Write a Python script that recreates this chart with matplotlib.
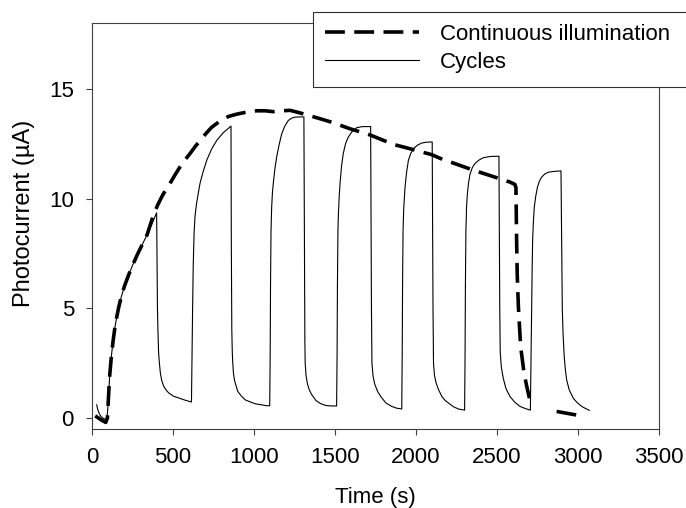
import numpy as np
import matplotlib
matplotlib.use("Agg")
import matplotlib.pyplot as plt
from matplotlib.patches import Rectangle

plt.rcParams['font.family'] = ['Liberation Sans', 'DejaVu Sans']
plt.rcParams['font.size'] = 16

# light on/off cycles (time in s, photocurrent in uA)
cycles_t = [29, 35, 45, 55, 65, 80, 90, 95, 100, 105, 110, 120, 130, 140, 150, 165, 180, 200,
            225, 250, 280, 310, 340, 370, 399,
            402, 404, 407, 411, 416, 422, 430, 443, 457, 474, 502, 536, 572, 614,
            616, 618, 621, 625, 630, 636, 645, 655, 667, 685, 708, 738, 770, 810, 858,
            860, 862, 863, 866, 869, 873, 880, 890, 900, 920, 945, 975, 1007, 1045, 1079, 1097,
            1100, 1102, 1105, 1109, 1114, 1119, 1128, 1140, 1155, 1171, 1190, 1212, 1232, 1253,
            1280, 1308,
            1311, 1313, 1314, 1316, 1321, 1330, 1341, 1355, 1382, 1410, 1444, 1480, 1510,
            1513, 1515, 1518, 1521, 1526, 1531, 1540, 1551, 1565, 1582, 1605, 1634, 1670, 1720,
            1723, 1725, 1728, 1735, 1745, 1763, 1785, 1815, 1850, 1880, 1912,
            1915, 1917, 1920, 1924, 1932, 1942, 1953, 1967, 1984, 2008, 2035, 2065, 2100,
            2103, 2105, 2108, 2114, 2124, 2139, 2160, 2180, 2201, 2230, 2262, 2300,
            2303, 2305, 2308, 2312, 2317, 2324, 2333, 2347, 2364, 2388, 2415, 2460, 2512,
            2515, 2517, 2520, 2527, 2539, 2555, 2580, 2610, 2642, 2675, 2706,
            2709, 2712, 2714, 2717, 2720, 2725, 2730, 2739, 2749, 2762, 2776, 2795, 2817, 2855, 2895,
            2898, 2900, 2903, 2908, 2915, 2922, 2930, 2945, 2971, 2995, 3023, 3045, 3070]
cycles_v = [0.6, 0.4, 0.2, 0.08, 0.0, -0.05, 0.0, 0.2, 0.7, 1.4, 2.0, 2.85, 3.5, 4.05, 4.5, 5.05, 5.5, 6.0,
            6.5, 6.95, 7.45, 7.9, 8.35, 8.85, 9.35,
            7.0, 5.0, 4.0, 3.0, 2.5, 2.05, 1.72, 1.44, 1.28, 1.14, 1.0, 0.91, 0.82, 0.73,
            2.0, 3.25, 5.0, 7.0, 8.4, 9.2, 9.75, 10.2, 10.7, 11.2, 11.74, 12.25, 12.65, 13.0, 13.3,
            8.0, 5.0, 4.0, 3.0, 2.5, 2.05, 1.7, 1.45, 1.21, 1.02, 0.83, 0.74, 0.65, 0.6, 0.56, 0.56,
            3.0, 6.0, 8.5, 9.6, 10.3, 10.68, 11.3, 11.9, 12.45, 12.95, 13.3, 13.56, 13.66, 13.71,
            13.72, 13.72,
            8.0, 5.0, 3.5, 2.5, 1.95, 1.55, 1.29, 1.08, 0.8, 0.66, 0.57, 0.55, 0.55,
            3.0, 6.0, 8.5, 9.3, 10.1, 10.68, 11.45, 12.05, 12.5, 12.8, 13.05, 13.23, 13.28, 13.28,
            8.0, 5.0, 2.5, 1.9, 1.55, 1.21, 0.95, 0.68, 0.53, 0.45, 0.41,
            3.0, 6.0, 8.5, 9.5, 10.5, 11.2, 11.74, 12.05, 12.27, 12.43, 12.53, 12.57, 12.58,
            8.0, 5.0, 2.5, 1.95, 1.6, 1.29, 0.98, 0.8, 0.68, 0.52, 0.41, 0.36,
            3.0, 6.0, 8.5, 9.6, 10.2, 10.7, 11.1, 11.4, 11.6, 11.75, 11.86, 11.92, 11.93,
            8.0, 5.0, 3.0, 2.3, 1.8, 1.35, 0.98, 0.72, 0.53, 0.43, 0.36,
            2.0, 4.0, 5.07, 6.8, 8.1, 9.0, 9.6, 10.1, 10.5, 10.8, 10.98, 11.12, 11.2, 11.24, 11.26,
            9.0, 7.0, 5.0, 3.8, 2.8, 2.2, 1.74, 1.3, 0.9, 0.7, 0.53, 0.44, 0.35]

# continuous illumination (gap in the record marked with nan)
cont_t = [20, 40, 60, 85, 95, 100, 105, 110, 120, 130, 140, 150, 165, 180, 200, 225, 250, 280,
          310, 340, 379, 405, 430, 455, 481, 510, 543, 575, 605, 640, 677, 710, 739, 790, 842,
          890, 934, 980, 1016, 1070, 1119, 1170, 1222, 1260, 1305, 1407, 1479, 1593,
          1716, 1860, 1963, 2097, 2169, 2230, 2344, 2519, 2580, 2610, 2617, 2621,
          2625, 2632, 2646, 2667, 2682, 2693, 2700, np.nan, 2868, 2981, 3000]
cont_v = [0.1, 0.0, -0.1, -0.2, 0.0, 0.7, 1.4, 2.0, 2.85, 3.5, 4.05, 4.5, 5.05, 5.5, 6.0, 6.5, 6.95, 7.45,
          7.9, 8.35, 9.24, 9.7, 10.07, 10.4, 10.68, 11.05, 11.44, 11.77, 12.05, 12.4, 12.73, 13.02, 13.25, 13.53, 13.74,
          13.84, 13.91, 13.97, 14.0, 14.0, 13.96, 14.0, 14.02, 13.95, 13.86, 13.64, 13.48, 13.18,
          12.9, 12.47, 12.27, 12.0, 11.77, 11.62, 11.32, 10.9, 10.75, 10.65, 10.5, 8.1,
          6.5, 5.07, 3.25, 2.05, 1.5, 1.14, 0.9, np.nan, 0.3, 0.15, 0.12]

fig = plt.figure(figsize=(6.86, 5.08), dpi=100)
ax = fig.add_axes([92/686, 1 - 429/508, (659 - 92)/686, (429 - 23)/508])

ax.plot(cont_t, cont_v, color='black', lw=2.6, dashes=(5.5, 2.6),
        label='Continuous illumination')
ax.plot(cycles_t, cycles_v, color='black', lw=0.8, label='Cycles')

ax.set_xlim(0, 3500)
ax.set_ylim(-0.5, 18)
ax.set_xticks(np.arange(0, 3501, 500))
ax.set_yticks([0, 5, 10, 15])
ax.tick_params(direction='out', length=4.5, width=0.8, color='#404040', pad=8.5,
               top=False, right=False)
for s in ax.spines.values():
    s.set_color('#404040')
    s.set_linewidth(0.8)

ax.set_xlabel('Time (s)', labelpad=14)
ax.set_ylabel('Photocurrent (µA)', fontsize=17)
ax.yaxis.set_label_coords(-0.100, 0.531)

# legend box runs off the right edge of the figure, as in the original
fig.patches.append(Rectangle((313/686, 1 - 87/508), 0.6, 75/508, transform=fig.transFigure,
                             facecolor='white', edgecolor='#303030', lw=0.8, zorder=4))
leg = fig.legend(loc='upper left', bbox_to_anchor=(313/686, 1 - 12/508),
                 borderaxespad=0, frameon=False,
                 handlelength=4.2, handletextpad=0.95, labelspacing=0.3, borderpad=0.55)
leg.set_zorder(5)

fig.savefig('out.png', dpi=100)
